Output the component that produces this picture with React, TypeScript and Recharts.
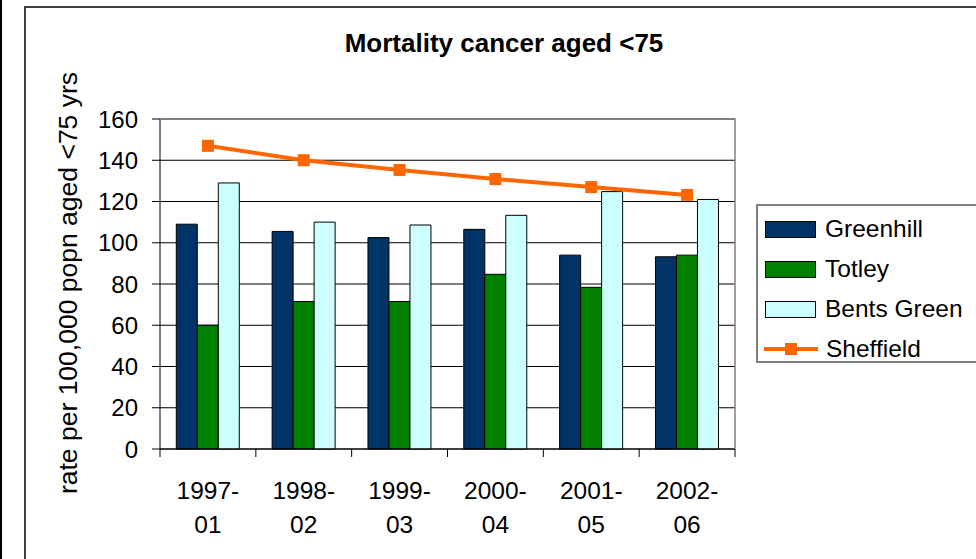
import { ComposedChart, Bar, Line, XAxis, YAxis, CartesianGrid } from 'recharts'

const categories = ['1997-01', '1998-02', '1999-03', '2000-04', '2001-05', '2002-06']
const greenhill = [109, 105.5, 102.5, 106.5, 94, 93.2]
const totley = [60, 71.5, 71.5, 84.7, 78.4, 94]
const bentsGreen = [129, 110, 108.6, 113.3, 124.8, 121]
const sheffield = [147, 140, 135.3, 130.9, 127, 123.2]
const yTicks = [0, 20, 40, 60, 80, 100, 120, 140, 160]

const FONT = '"Liberation Sans", Arial, sans-serif'
const W = 976
const H = 559
const PLOT_LEFT = 160
const PLOT_RIGHT = 735
const PLOT_TOP = 119
const PLOT_BOTTOM = 449
const Y_AXIS_W = 60
const X_AXIS_H = 70
const BAND = (PLOT_RIGHT - PLOT_LEFT) / categories.length

const series = [
  { key: 'Greenhill', values: greenhill, color: '#003366' },
  { key: 'Totley', values: totley, color: '#008000' },
  { key: 'Bents Green', values: bentsGreen, color: '#CCFFFF' },
]

const data = categories.map((c, i) => ({
  name: c,
  Greenhill: greenhill[i],
  Totley: totley[i],
  'Bents Green': bentsGreen[i],
  Sheffield: sheffield[i],
}))

function CategoryTick(props: any) {
  const { x, y, payload, index } = props
  const [a, b] = String(payload.value).split('-')
  return (
    <g>
      {index === 0 && (
        <line x1={x - BAND / 2} x2={x - BAND / 2} y1={y - 8} y2={y} stroke="#000" />
      )}
      <line x1={x + BAND / 2} x2={x + BAND / 2} y1={y - 8} y2={y} stroke="#000" />
      <text x={x} y={y + 42} textAnchor="middle" fontSize={24.5} fontFamily={FONT} fill="#000">
        {a + '-'}
      </text>
      <text x={x} y={y + 76} textAnchor="middle" fontSize={24.5} fontFamily={FONT} fill="#000">
        {b}
      </text>
    </g>
  )
}

function SquareDot(props: any) {
  const { cx, cy } = props
  if (cx == null || cy == null) return null
  return <rect x={cx - 6} y={cy - 6} width={12} height={12} fill="#FF6600" />
}

function LegendBox() {
  return (
    <div
      style={{
        position: 'absolute',
        left: 756,
        top: 204,
        border: '2px solid #808080',
        width: 240,
        height: 159,
        boxSizing: 'border-box',
        background: '#fff',
        fontFamily: FONT,
        fontSize: 24.5,
        paddingTop: 3,
      }}
    >
      {series.map((s) => (
        <div key={s.key} style={{ display: 'flex', alignItems: 'center', height: 40 }}>
          <span
            style={{
              display: 'inline-block',
              marginLeft: 7,
              width: 51,
              height: 17,
              background: s.color,
              border: '1px solid #000',
              boxSizing: 'border-box',
            }}
          />
          <span style={{ marginLeft: 9 }}>{s.key}</span>
        </div>
      ))}
      <div style={{ display: 'flex', alignItems: 'center', height: 40 }}>
        <svg width={58} height={14} style={{ marginLeft: 4 }}>
          <line x1={2} x2={56} y1={7} y2={7} stroke="#FF6600" strokeWidth={4} />
          <rect x={23} y={1} width={12} height={12} fill="#FF6600" />
        </svg>
        <span style={{ marginLeft: 6 }}>Sheffield</span>
      </div>
    </div>
  )
}

export default function App() {
  return (
    <div style={{ position: 'absolute', left: 0, top: 0, width: W, height: H, background: '#fff', overflow: 'hidden' }}>
      <ComposedChart
        width={W}
        height={H}
        data={data}
        margin={{
          left: PLOT_LEFT - Y_AXIS_W,
          right: W - PLOT_RIGHT,
          top: PLOT_TOP,
          bottom: H - PLOT_BOTTOM - X_AXIS_H,
        }}
        barCategoryGap="17%"
        barGap={0}
      >
        <CartesianGrid vertical={false} stroke="#000" strokeWidth={1} />
        <XAxis
          dataKey="name"
          height={X_AXIS_H}
          axisLine={{ stroke: '#000' }}
          tickLine={false}
          tick={<CategoryTick />}
          interval={0}
        />
        <YAxis
          domain={[0, 160]}
          ticks={yTicks}
          width={Y_AXIS_W}
          axisLine={{ stroke: '#000' }}
          tickLine={{ stroke: '#000' }}
          tickSize={8}
          tickMargin={14}
          interval={0}
          tick={{ fontSize: 24, fontFamily: FONT, fill: '#000' }}
        />
        {series.map((s) => (
          <Bar
            key={s.key}
            dataKey={s.key}
            fill={s.color}
            stroke="#000"
            strokeWidth={1}
            isAnimationActive={false}
          />
        ))}
        <Line
          dataKey="Sheffield"
          stroke="#FF6600"
          strokeWidth={4}
          dot={<SquareDot />}
          activeDot={false}
          isAnimationActive={false}
        />
      </ComposedChart>
      <LegendBox />
      <svg
        width={W}
        height={H}
        style={{ position: 'absolute', left: 0, top: 0, pointerEvents: 'none' }}
      >
        <line x1={1} x2={1} y1={0} y2={H} stroke="#000" strokeWidth={2} />
        <polyline
          points={`25,${H} 25,7 ${W},7`}
          fill="none"
          stroke="#404040"
          strokeWidth={2}
        />
        <polyline
          points={`${PLOT_LEFT},${PLOT_TOP} ${PLOT_RIGHT},${PLOT_TOP} ${PLOT_RIGHT},${PLOT_BOTTOM}`}
          fill="none"
          stroke="#808080"
          strokeWidth={1.5}
        />
        <text
          x={504}
          y={52}
          textAnchor="middle"
          fontSize={26}
          fontWeight="bold"
          fontFamily={FONT}
          fill="#000"
        >
          Mortality cancer aged &lt;75
        </text>
        <text
          x={77}
          y={283}
          transform="rotate(-90 77 283)"
          textAnchor="middle"
          fontSize={26.5}
          fontFamily={FONT}
          fill="#000"
        >
          rate per 100,000 popn aged &lt;75 yrs
        </text>
      </svg>
    </div>
  )
}
